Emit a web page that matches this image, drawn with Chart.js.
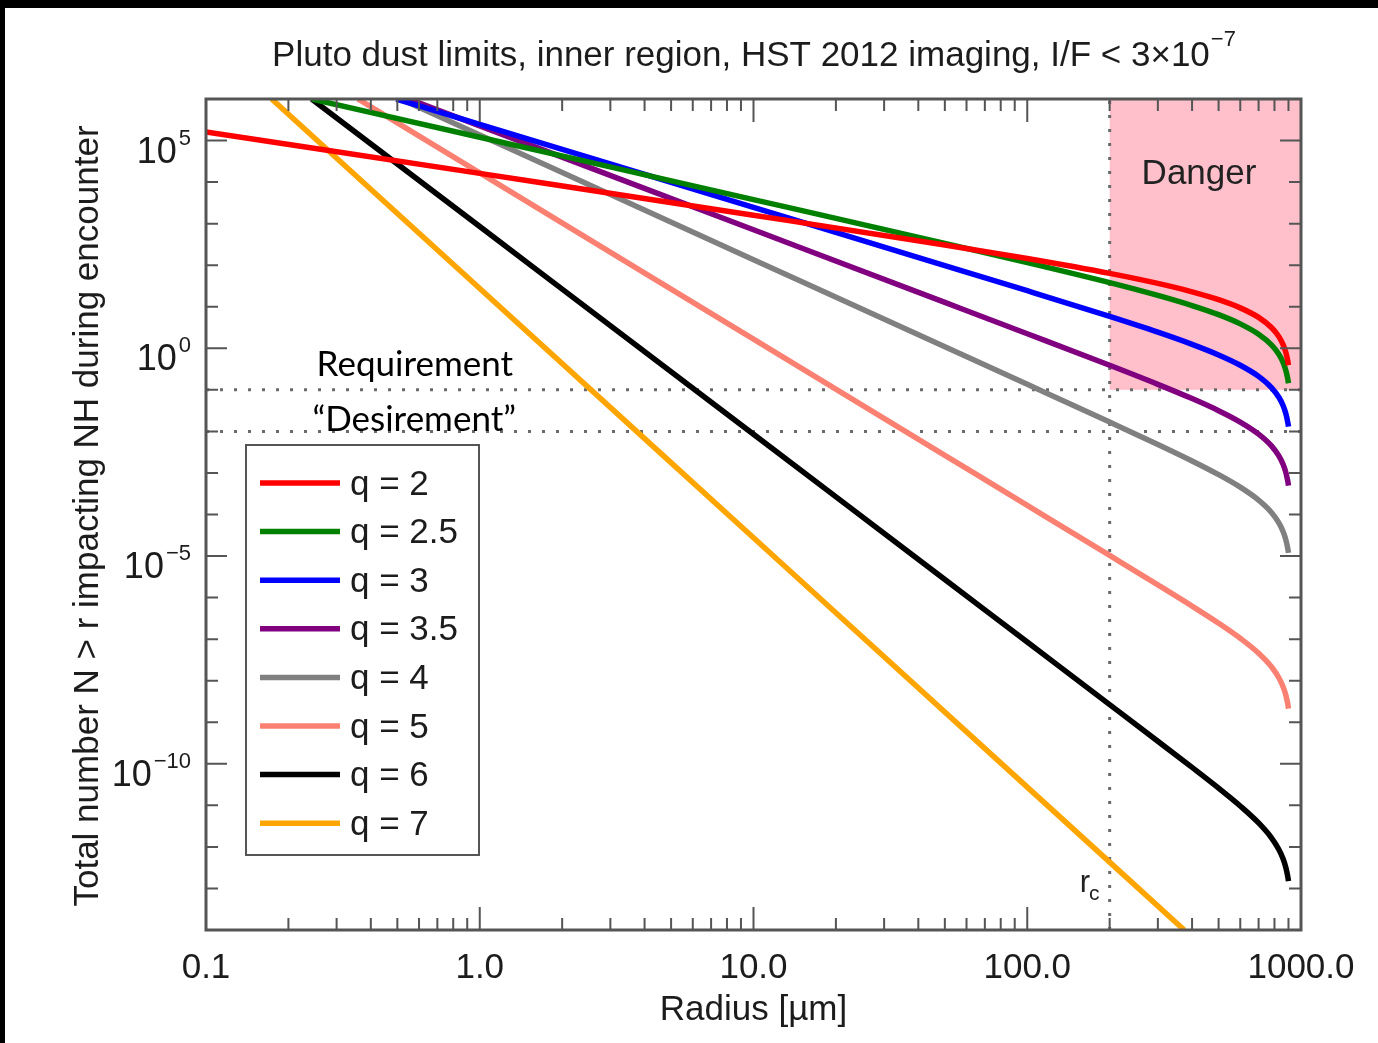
<!DOCTYPE html>
<html>
<head>
<meta charset="utf-8">
<title>Pluto dust limits</title>
<script src="https://cdn.jsdelivr.net/npm/chart.js@4.4.0/dist/chart.umd.min.js"></script>
<style>
  html, body { margin: 0; padding: 0; background: #fff; }
  #wrap { position: relative; width: 1378px; height: 1043px; overflow: hidden; }
  #chart { position: absolute; left: 0; top: 0; }
  .edge { position: absolute; background: #000; }
</style>
</head>
<body>
<div id="wrap">
  <canvas id="chart" width="1378" height="1043"></canvas>
  <div class="edge" style="left:0;top:0;width:1378px;height:8px"></div>
  <div class="edge" style="left:0;top:0;width:5px;height:1043px"></div>
</div>
<script>
// values (radius in micron, cumulative number N > r)
const rQ2  = [0.1, 1, 10, 50, 100, 200, 300, 400, 500, 600, 700, 780, 830, 860, 880, 895, 900];
const nQ2  = [1.62e5, 1.62e4, 1.60e3, 307, 144.5, 63.5, 36.4, 22.9, 14.8, 9.40, 5.54, 3.16, 1.91, 1.23, 0.802, 0.493, 0.391];
const rQ25 = [0.2435, 1, 10, 50, 100, 200, 300, 400, 500, 600, 700, 780, 830, 860, 880, 895, 900];
const nQ25 = [1e6, 1.20e5, 3.80e3, 336, 115.9, 38.2, 18.8, 10.7, 6.45, 3.87, 2.18, 1.21, 0.719, 0.459, 0.297, 0.182, 0.1445];
const rQ3  = [0.4955, 1, 10, 50, 100, 200, 300, 400, 500, 600, 700, 780, 830, 860, 880, 895, 900];
const nQ3  = [1e6, 2.45e5, 2.45e3, 97.9, 24.3, 5.85, 2.44, 1.244, 0.692, 0.3914, 0.2109, 0.1135, 0.0663, 0.0419, 0.02697, 0.01646, 0.0130];
const rQ35 = [0.551, 1, 10, 50, 100, 200, 300, 400, 500, 600, 700, 780, 830, 860, 880, 895, 900];
const nQ35 = [1e6, 2.25e5, 713, 12.75, 2.245, 0.39, 0.1358, 0.0616, 0.03155, 0.01678, 0.0086, 0.00449, 0.002575, 0.001612, 0.001033, 0.000627, 0.000497];
const rQ4  = [0.514, 1, 10, 50, 100, 200, 300, 400, 500, 600, 700, 780, 830, 860, 880, 895, 900];
const nQ4  = [1e6, 1.358e5, 135.8, 1.086, 0.1356, 0.0168, 0.004858, 0.001948, 0.000912, 0.0004545, 0.0002215, 0.0001118, 6.31e-5, 3.91e-5, 2.49e-5, 1.507e-5, 1.191e-5];
const rQ5  = [0.359, 1, 10, 50, 100, 200, 300, 400, 500, 600, 700, 780, 830, 860, 880, 895, 900];
const nQ5  = [1e6, 1.66e4, 1.66, 2.655e-3, 1.66e-4, 1.035e-5, 2.026e-6, 6.25e-7, 2.423e-7, 1.048e-7, 4.596e-8, 2.167e-8, 1.179e-8, 7.17e-9, 4.513e-9, 2.703e-9, 2.13e-9];
const rQ6  = [0.2432, 1, 10, 50, 100, 200, 300, 400, 500, 600, 700, 780, 830, 860, 880, 895, 900];
const nQ6  = [1e6, 851, 8.51e-3, 2.72e-6, 8.51e-8, 2.66e-9, 3.49e-10, 8.18e-11, 2.594e-11, 9.65e-12, 3.773e-12, 1.657e-12, 8.69e-13, 5.18e-13, 3.217e-13, 1.911e-13, 1.502e-13];
const rQ7  = [0.1738, 1, 10, 100, 374.4];
const nQ7  = [1e6, 27.5, 2.75e-5, 2.75e-11, 1e-14];

const seriesLabels = ['q = 2', 'q = 2.5', 'q = 3', 'q = 3.5', 'q = 4', 'q = 5', 'q = 6', 'q = 7'];
const seriesColors = ['#ff0000', '#008000', '#0000ff', '#800080', '#808080', '#fa8072', '#000000', '#ffa500'];
const seriesR = [rQ2, rQ25, rQ3, rQ35, rQ4, rQ5, rQ6, rQ7];
const seriesN = [nQ2, nQ25, nQ3, nQ35, nQ4, nQ5, nQ6, nQ7];

const xTickValues = [0.1, 1, 10, 100, 1000];
const xTickLabels = ['0.1', '1.0', '10.0', '100.0', '1000.0'];
const yTickValues = [1e5, 1, 1e-5, 1e-10];
const yTickExps = ['5', '0', '\u22125', '\u221210'];

const rCutoff = 200;          // r_c
const nRequirement = 0.1;
const nDesirement = 0.01;

const SANS = '"Liberation Sans", Arial, Helvetica, sans-serif';
const AXIS = '#555555';
const INK = '#1c1c1c';

function dottedLine(ctx, x1, y1, x2, y2){
  ctx.beginPath(); ctx.moveTo(x1, y1); ctx.lineTo(x2, y2); ctx.stroke();
}

const decor = {
  id: 'decor',
  beforeDatasetsDraw(chart){
    const { ctx, chartArea: a, scales: { x, y } } = chart;
    ctx.save();
    // danger zone: r > r_c, N > requirement
    const xc = x.getPixelForValue(rCutoff);
    const yReq = y.getPixelForValue(nRequirement);
    const yDes = y.getPixelForValue(nDesirement);
    ctx.fillStyle = '#ffc0cb';
    ctx.fillRect(xc, a.top, a.right - xc, yReq - a.top);
    ctx.strokeStyle = '#6a6a6a';
    ctx.lineWidth = 3;
    ctx.setLineDash([3, 11]);
    dottedLine(ctx, a.left, yReq, a.right, yReq);
    dottedLine(ctx, a.left, yDes, a.right, yDes);
    dottedLine(ctx, xc, a.bottom, xc, a.top);
    ctx.restore();
  },
  afterDatasetsDraw(chart){
    const { ctx, chartArea: a, scales: { x, y } } = chart;
    ctx.save();
    ctx.strokeStyle = AXIS;
    ctx.lineWidth = 2;
    // inward ticks, mirrored on all four sides
    const tick = (px, len, vertical) => {
      ctx.beginPath();
      if (vertical){
        ctx.moveTo(px, a.bottom); ctx.lineTo(px, a.bottom - len);
        ctx.moveTo(px, a.top); ctx.lineTo(px, a.top + len);
      } else {
        ctx.moveTo(a.left, px); ctx.lineTo(a.left + len, px);
        ctx.moveTo(a.right, px); ctx.lineTo(a.right - len, px);
      }
      ctx.stroke();
    };
    [0.1, 1, 10, 100].forEach(d => {
      for (let m = 2; m <= 9; m++) tick(x.getPixelForValue(d * m), 12, true);
    });
    [1, 10, 100].forEach(v => tick(x.getPixelForValue(v), 23, true));
    for (let e = -13; e <= 5; e++){
      const major = e % 5 === 0;
      tick(y.getPixelForValue(Math.pow(10, e)), major ? 21 : 12, false);
    }
    ctx.lineWidth = 3;
    ctx.strokeRect(a.left, a.top, a.right - a.left, a.bottom - a.top);
    ctx.restore();
  },
  afterDraw(chart){
    const { ctx, chartArea: a, scales: { x, y } } = chart;
    ctx.save();
    ctx.fillStyle = INK;

    // x tick labels
    ctx.font = '35px ' + SANS;
    ctx.textAlign = 'center';
    ctx.textBaseline = 'alphabetic';
    xTickValues.forEach((v, i) => ctx.fillText(xTickLabels[i], x.getPixelForValue(v), 978));

    // y tick labels: 10 with a raised exponent
    yTickValues.forEach((v, i) => {
      const py = y.getPixelForValue(v);
      ctx.font = '22px ' + SANS;
      const we = ctx.measureText(yTickExps[i]).width;
      ctx.textAlign = 'left';
      ctx.fillText(yTickExps[i], 191 - we, py + 4);
      ctx.font = '36px ' + SANS;
      ctx.textAlign = 'right';
      ctx.fillText('10', 189 - we, py + 22);
    });

    // title with superscript
    const tMain = 'Pluto dust limits, inner region, HST 2012 imaging, I/F < 3\u00d710';
    const tSup = '\u22127';
    ctx.font = '35px ' + SANS;
    const wMain = ctx.measureText(tMain).width;
    ctx.font = '22px ' + SANS;
    const wSup = ctx.measureText(tSup).width;
    const tx = (a.left + a.right) / 2 - (wMain + wSup) / 2;
    ctx.textAlign = 'left';
    ctx.font = '35px ' + SANS;
    ctx.fillText(tMain, tx, 66);
    ctx.font = '22px ' + SANS;
    ctx.fillText(tSup, tx + wMain + 1, 46);

    // axis titles
    ctx.font = '35px ' + SANS;
    ctx.textAlign = 'center';
    ctx.fillText('Radius [\u00b5m]', (a.left + a.right) / 2, 1020);
    ctx.save();
    ctx.translate(98, 516);
    ctx.rotate(-Math.PI / 2);
    ctx.fillText('Total number N > r impacting NH during encounter', 0, 0);
    ctx.restore();

    // annotations
    ctx.fillStyle = '#222';
    ctx.fillText('Danger', 1199, 184);
    ctx.textAlign = 'right';
    ctx.font = '31px ' + SANS;
    ctx.fillText('r', 1090, 892);
    ctx.font = '21px ' + SANS;
    ctx.textAlign = 'left';
    ctx.fillText('c', 1089, 900);

    ctx.fillStyle = '#000';
    ctx.font = '35px Lato, "Open Sans", sans-serif';
    ctx.textAlign = 'right';
    ctx.fillText('Requirement', 513, 376);
    ctx.fillText('\u201cDesirement\u201d', 516, 431);

    // legend box
    const lx = 246, ly = 445, lw = 233, lh = 410, row = 48.6;
    ctx.fillStyle = '#fff';
    ctx.fillRect(lx, ly, lw, lh);
    ctx.strokeStyle = AXIS;
    ctx.lineWidth = 2;
    ctx.strokeRect(lx, ly, lw, lh);
    ctx.font = '35px ' + SANS;
    ctx.textAlign = 'left';
    ctx.textBaseline = 'middle';
    chart.data.datasets.forEach((ds, i) => {
      const cy = ly + 38 + i * row;
      ctx.strokeStyle = ds.borderColor;
      ctx.lineWidth = 5.5;
      ctx.beginPath(); ctx.moveTo(260, cy); ctx.lineTo(340, cy); ctx.stroke();
      ctx.fillStyle = INK;
      ctx.fillText(ds.label, 350, cy + 2);
    });
    ctx.restore();
  }
};

// first series ends up on top, as in the original plot
const datasets = seriesLabels.map((label, i) => ({
  label,
  data: seriesR[i].map((r, j) => ({ x: r, y: seriesN[i][j] })),
  borderColor: seriesColors[i],
  backgroundColor: seriesColors[i],
  borderWidth: 5.5,
  pointRadius: 0,
  fill: false,
  cubicInterpolationMode: 'monotone'
}));

new Chart(document.getElementById('chart').getContext('2d'), {
  type: 'line',
  data: { datasets },
  options: {
    responsive: false,
    animation: false,
    events: [],
    layout: { padding: { left: 206, right: 77, top: 99, bottom: 113 } },
    scales: {
      x: { type: 'logarithmic', min: 0.1, max: 1000, display: false },
      y: { type: 'logarithmic', min: 1e-14, max: 1e6, display: false }
    },
    plugins: { legend: { display: false }, tooltip: { enabled: false } }
  },
  plugins: [decor]
});
</script>
</body>
</html>
